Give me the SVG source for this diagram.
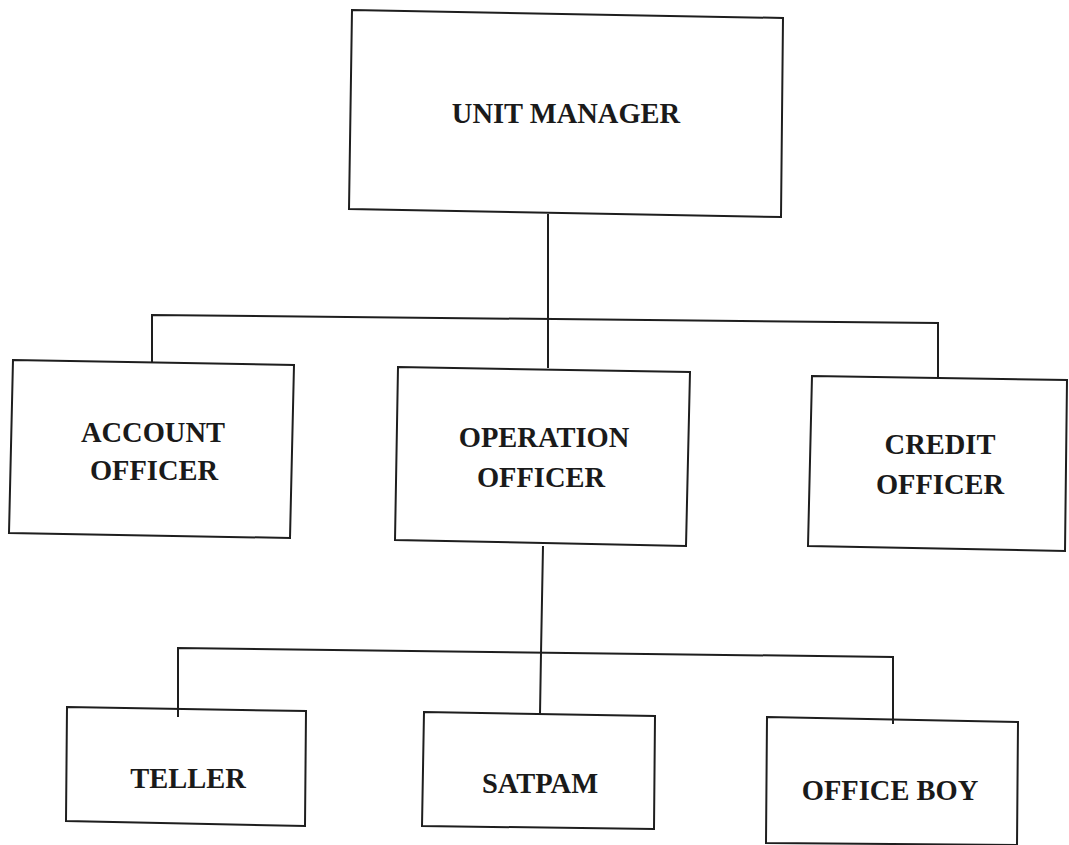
<svg xmlns="http://www.w3.org/2000/svg" width="1069" height="845" viewBox="0 0 1069 845">
<style>
.box{fill:none;stroke:#1e1e1e;stroke-width:2;stroke-linejoin:miter}
.ln{fill:none;stroke:#1e1e1e;stroke-width:2}
.t{font-family:"Liberation Serif","Times New Roman",serif;font-weight:bold;font-size:28.5px;fill:#1a1a1a;text-anchor:middle}
</style>
<rect width="1069" height="845" fill="#ffffff"/>
<g id="connectors">
<polyline class="ln" points="548,214 548,368"/>
<polyline class="ln" points="152,362 152,315 938,323 938,377"/>
<polyline class="ln" points="543,546 541,653 540,714"/>
<polyline class="ln" points="178,717 178,648 893,657 893,724"/>
</g>
<g id="unit-manager">
<polygon class="box" points="352,10 783,18 781,217 349,209"/>
<text class="t" x="566" y="123">UNIT MANAGER</text>
</g>
<g id="account-officer">
<polygon class="box" points="13,360 294,365 290,538 9,533"/>
<text class="t" x="153" y="442">ACCOUNT</text>
<text class="t" x="154" y="480">OFFICER</text>
</g>
<g id="operation-officer">
<polygon class="box" points="398,367 690,372 686,546 395,540"/>
<text class="t" x="544" y="447">OPERATION</text>
<text class="t" x="541" y="487">OFFICER</text>
</g>
<g id="credit-officer">
<polygon class="box" points="812,376 1067,380 1065,551 808,546"/>
<text class="t" x="940" y="454">CREDIT</text>
<text class="t" x="940" y="494">OFFICER</text>
</g>
<g id="teller">
<polygon class="box" points="67,707 306,711 305,826 66,821"/>
<text class="t" x="188" y="788">TELLER</text>
</g>
<g id="satpam">
<polygon class="box" points="424,712 655,716 654,829 422,826"/>
<text class="t" x="540" y="793">SATPAM</text>
</g>
<g id="office-boy">
<polygon class="box" points="767,717 1018,722 1017,845 766,843"/>
<text class="t" x="890" y="800">OFFICE BOY</text>
</g>
</svg>
